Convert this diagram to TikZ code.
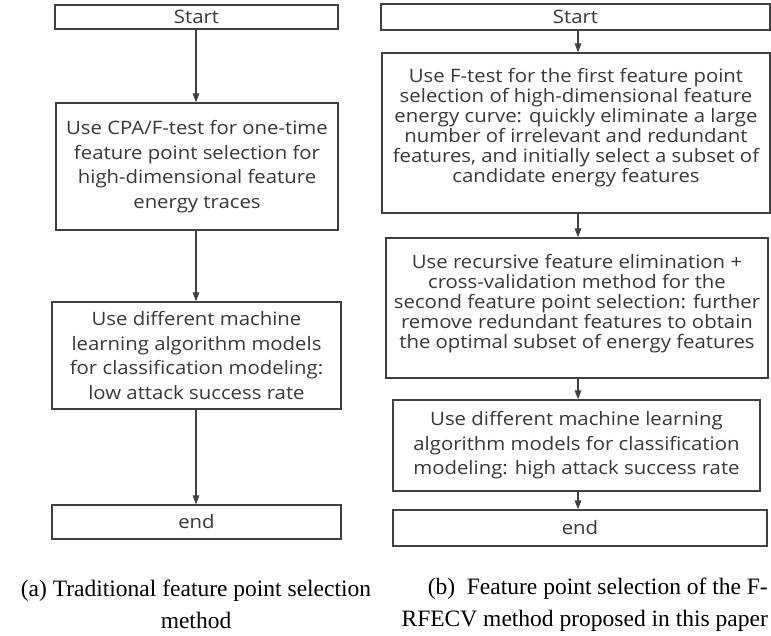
\documentclass[tikz,border=0pt]{standalone}
\usepackage{fontspec}
\setmainfont{Liberation Serif}
\newfontfamily\boxfont[FakeStretch=1.1]{Open Sans}
\usetikzlibrary{arrows.meta}
\definecolor{linegray}{HTML}{404040}
\definecolor{textgray}{HTML}{383838}
\begin{document}
\begin{tikzpicture}[x=1pt,y=-1pt,
  box/.style={draw=linegray, line width=1.2pt, rectangle, inner sep=0pt, align=center, text=textgray,
    font=\boxfont\fontsize{18.5}{24.5}\selectfont},
  tight/.style={font=\boxfont\fontsize{18.5}{20}\selectfont},
  arr/.style={draw=linegray, line width=1.2pt, -{Triangle[length=9pt,width=6.5pt]}},
  captext/.style={font=\fontsize{23.5}{32}\selectfont, text=black, inner sep=0pt}]
\path[use as bounding box, fill=white] (0,0) rectangle (771,636);
% left column
\node[box, minimum width=283pt, minimum height=24pt] (s1) at (196.5,17) {Start};
\node[box, minimum width=282pt, minimum height=127pt] (b1) at (197,166.5) {Use CPA/F-test for one-time\\feature point selection for\\high-dimensional feature\\energy traces};
\node[box, minimum width=289pt, minimum height=107pt] (b2) at (196.5,355.5) {Use different machine\\learning algorithm models\\for classification modeling:\\low attack success rate};
\node[box, minimum width=289pt, minimum height=34pt] (e1) at (196.5,522) {end};
\coordinate (axL) at (196,0);
\draw[arr] (s1.south -| axL) -- (b1.north -| axL);
\draw[arr] (b1.south -| axL) -- (b2.north -| axL);
\draw[arr] (b2.south -| axL) -- (e1.north -| axL);
% right column
\node[box, minimum width=389pt, minimum height=26pt] (s2) at (575.5,17) {Start};
\node[box, tight, text depth=16pt, minimum width=388pt, minimum height=160pt] (c1) at (576,133) {Use F-test for the first feature point\\selection of high-dimensional feature\\energy curve: quickly eliminate a large\\number of irrelevant and redundant\\features, and initially select a subset of\\candidate energy features};
\node[box, tight, text depth=14pt, minimum width=382pt, minimum height=140pt] (c2) at (577,308) {Use recursive feature elimination +\\cross-validation method for the\\second feature point selection: further\\remove redundant features to obtain\\the optimal subset of energy features};
\node[box, minimum width=367pt, minimum height=91pt] (c3) at (576.5,445.5) {Use different machine learning\\algorithm models for classification\\modeling: high attack success rate};
\node[box, minimum width=374pt, minimum height=36pt] (e2) at (580,528) {end};
\coordinate (axR) at (578,0);
\draw[arr] (s2.south -| axR) -- (c1.north -| axR);
\draw[arr] (c1.south -| axR) -- (c2.north -| axR);
\draw[arr] (c2.south -| axR) -- (c3.north -| axR);
\draw[arr] (c3.south -| axR) -- (e2.north -| axR);
% captions
\node[captext, align=center] (capA) at (196,604) {(a) Traditional feature point selection\\method};
\node[captext, align=right, anchor=east] (capB) at (768,605) {(b)~ Feature point selection of the F-\\RFECV method proposed in this paper};
\end{tikzpicture}
\end{document}
